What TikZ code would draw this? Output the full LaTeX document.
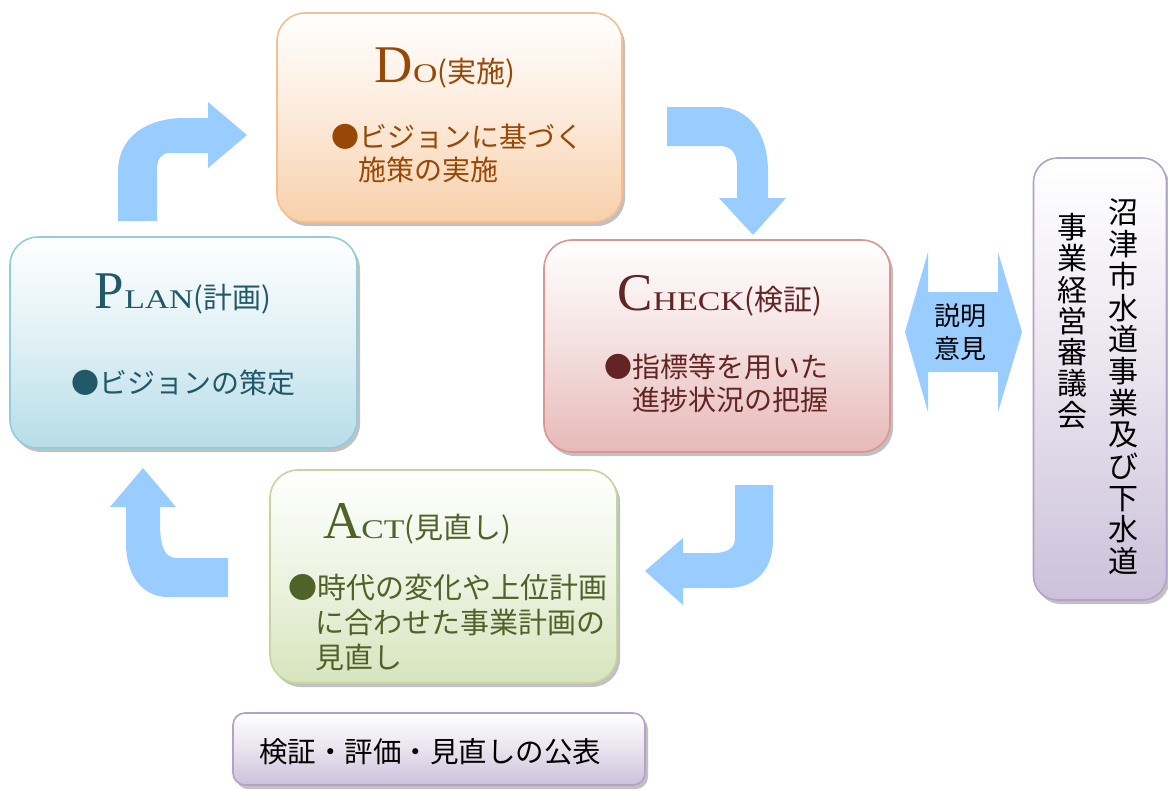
\documentclass[tikz,border=0pt]{standalone}
\usepackage{fontspec}
\usepackage{graphicx}
\setmainfont{Liberation Serif}
\newfontfamily\jpfont{Noto Sans CJK JP}
\newfontfamily\ttlfont{Liberation Serif}
\usetikzlibrary{shadows}
\definecolor{arrowblue}{HTML}{99CCFF}
\definecolor{doText}{HTML}{974806}
\definecolor{doFill}{HTML}{F8D0AB}
\definecolor{doLine}{HTML}{F7BE8E}
\definecolor{planText}{HTML}{215968}
\definecolor{planFill}{HTML}{B7DDE8}
\definecolor{planLine}{HTML}{92CDDC}
\definecolor{chkText}{HTML}{632523}
\definecolor{chkFill}{HTML}{E6B9B8}
\definecolor{chkLine}{HTML}{D99694}
\definecolor{actText}{HTML}{4F6228}
\definecolor{actFill}{HTML}{D7E4BD}
\definecolor{actLine}{HTML}{C3D69B}
\definecolor{lavFill}{HTML}{CCC1DA}
\definecolor{lavLine}{HTML}{B3A2C7}
\newcommand\TitleMix[3]{{\ttlfont\fontsize{53}{53}\selectfont #1}{\ttlfont\fontsize{27}{27}\selectfont\scalebox{1.25}[1]{#2}}{\jpfont\fontsize{29}{29}\selectfont (#3)}}
\tikzset{
  box/.style={draw, line width=1.6pt, rounded corners=28pt,
    drop shadow={shadow xshift=3pt, shadow yshift=-4pt, opacity=0.35, fill=black!70}},
  jp/.style={font=\jpfont\fontsize{28}{33}\selectfont, inner sep=0pt},
  ttl/.style={inner sep=0pt, anchor=base},
  barrow/.style={fill=arrowblue, draw=none},
}
\begin{document}
\begin{tikzpicture}[x=1pt, y=-1pt]
\useasboundingbox (0,0) rectangle (1168,790);

% boxes
\node[box, draw=doLine, top color=white, bottom color=doFill, middle color=doFill!45,
  minimum width=345pt, minimum height=209pt] (do) at (449.5,117.5) {};
\node[box, draw=planLine, top color=white, bottom color=planFill, middle color=planFill!45,
  minimum width=347pt, minimum height=211pt] (plan) at (183.5,342.5) {};
\node[box, draw=chkLine, top color=white, bottom color=chkFill, middle color=chkFill!45,
  minimum width=346pt, minimum height=212pt] (check) at (717,346) {};
\node[box, draw=actLine, top color=white, bottom color=actFill, middle color=actFill!45,
  minimum width=347pt, minimum height=213pt] (act) at (443.5,576.5) {};
\node[box, draw=lavLine, top color=white, bottom color=lavFill, middle color=lavFill!45,
  rounded corners=24pt, minimum width=133pt, minimum height=442pt] (council) at (1100,379) {};
\node[box, draw=lavLine, top color=white, bottom color=lavFill, middle color=lavFill!45,
  rounded corners=12pt, minimum width=412pt, minimum height=72pt] (pub) at (439,749) {};

% titles
\node[ttl, text=doText] (doT) at (445,82) {\TitleMix{D}{O}{実施}};
\node[ttl, text=planText] (planT) at (183,308) {\TitleMix{P}{LAN}{計画}};
\node[ttl, text=chkText] (chkT) at (720,310) {\TitleMix{C}{HECK}{検証}};
\node[ttl, text=actText] (actT) at (417,538) {\TitleMix{A}{CT}{見直し}};

% bullet texts
\node[jp, text=doText, anchor=west] (do1) at (331,137) {●ビジョンに基づく};
\node[jp, text=doText, anchor=west] (do2) at (358,170) {施策の実施};
\node[jp, text=planText] (plan1) at (183,383) {●ビジョンの策定};
\node[jp, text=chkText, anchor=west] (chk1) at (604,367) {●指標等を用いた};
\node[jp, text=chkText, anchor=west] (chk2) at (632,400) {進捗状況の把握};
\node[jp, text=actText, anchor=west, font=\jpfont\fontsize{29}{33}\selectfont] (act1) at (288,588) {●時代の変化や上位計画};
\node[jp, text=actText, anchor=west, font=\jpfont\fontsize{29}{33}\selectfont] (act2) at (315,623) {に合わせた事業計画の};
\node[jp, text=actText, anchor=west, font=\jpfont\fontsize{29}{33}\selectfont] (act3) at (315,657) {見直し};

% council vertical text
\node[font=\jpfont\fontsize{30}{31.7}\selectfont, align=center, inner sep=0pt] (c1) at (1123,387)
  {沼\\津\\市\\水\\道\\事\\業\\及\\び\\下\\水\\道};
\node[font=\jpfont\fontsize{30}{31.3}\selectfont, align=center, inner sep=0pt] (c2) at (1072,321)
  {事\\業\\経\\営\\審\\議\\会};

% publication text
\node[font=\jpfont\fontsize{28.5}{28.5}\selectfont, inner sep=0pt] (pubT) at (430,752) {検証・評価・見直しの公表};

% cycle arrows
\path[barrow] (118,221) -- (118,172) .. controls (118,138) and (145,118) .. (185,118)
  -- (208,118) -- (208,102) -- (247,135) -- (208,168) -- (208,153) -- (170,153)
  .. controls (161,153) and (157,159) .. (157,170) -- (157,221) -- cycle;
\path[barrow] (667,107) -- (718,107) .. controls (748,107) and (768,132) .. (768,172)
  -- (768,198) -- (786,198) -- (753,235) -- (719,198) -- (737,198) -- (737,166)
  .. controls (737,153) and (731,146) .. (720,146) -- (667,146) -- cycle;
\path[barrow] (735,485) -- (773,485) -- (773,540) .. controls (773,570) and (755,588) .. (728,588)
  -- (683,588) -- (683,605) -- (645,571) -- (683,538) -- (683,553) -- (713,553)
  .. controls (728,553) and (735,548) .. (735,538) -- cycle;
\path[barrow] (228,558) -- (228,597) -- (168,597) .. controls (142,597) and (126,575) .. (126,543)
  -- (126,507) -- (110,507) -- (143,468) -- (176,507) -- (160,507) -- (160,528)
  .. controls (161,548) and (165,558) .. (177,558) -- cycle;

% double arrow
\path[barrow] (905,332) -- (928,252) -- (928,292) -- (998,292) -- (998,252) -- (1022,332)
  -- (998,412) -- (998,372) -- (928,372) -- (928,412) -- cycle;
\node[font=\jpfont\fontsize{26}{33}\selectfont, align=center, inner sep=0pt] (expl) at (960,332) {説明\\意見};
\end{tikzpicture}
\end{document}
